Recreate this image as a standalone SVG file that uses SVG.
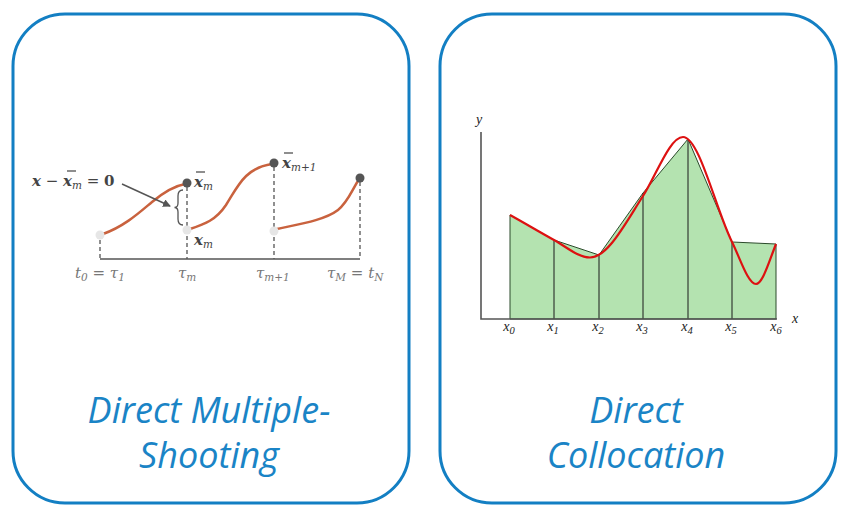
<svg xmlns="http://www.w3.org/2000/svg" width="851" height="517" viewBox="0 0 851 517">
<style>
.box{fill:#fff;stroke:#137fc3;stroke-width:3}
.title{font-family:"Open Sans",Lato,sans-serif;font-style:italic;font-size:36px;fill:#1a84c6;text-anchor:middle}
.seg{fill:none;stroke:#c9623e;stroke-width:2.5;stroke-linecap:round}
.dash{stroke:#555;stroke-width:1.3;stroke-dasharray:4 3}
.m{font-family:"DejaVu Serif","Liberation Serif",serif;font-style:italic;fill:#444;font-size:15px}
.mb{font-weight:bold}
.ax{font-family:"DejaVu Serif","Liberation Serif",serif;font-style:italic;fill:#777;font-size:15px}
.sub{font-size:10.5px}
.cl{font-family:"Liberation Serif",serif;font-style:italic;font-size:14px;fill:#222;text-anchor:middle}
</style>
<defs>
<marker id="ah" markerWidth="8" markerHeight="8" refX="7" refY="4" orient="auto" markerUnits="userSpaceOnUse">
<path d="M0,0 L8,4 L0,8 z" fill="#555"/>
</marker>
</defs>
<g id="box-left">
<rect class="box" x="13" y="14" width="396" height="489" rx="52"/>
<text class="title" x="209" y="423">Direct Multiple-</text>
<text class="title" x="209" y="468">Shooting</text>
</g>
<g id="box-right">
<rect class="box" x="440" y="14" width="396" height="489" rx="52"/>
<text class="title" x="636" y="423">Direct</text>
<text class="title" x="636" y="468">Collocation</text>
</g>
<g id="multiple-shooting">
<line x1="100" y1="259" x2="360" y2="259" stroke="#555" stroke-width="1.5"/>
<line class="dash" x1="100" y1="240" x2="100" y2="259"/>
<line class="dash" x1="187" y1="187" x2="187" y2="259"/>
<line class="dash" x1="274" y1="167" x2="274" y2="259"/>
<line class="dash" x1="360" y1="182" x2="360" y2="259"/>
<path class="seg" d="M103,234 C125,226 140,212 152,202 C164,192 174,186 185,184"/>
<path class="seg" d="M190,229 C205,224 216,220 226,205 C238,186 245,168 272,164"/>
<path class="seg" d="M277,229 C300,224 325,220 338,210 C348,202 352,190 358,181"/>
<circle cx="100" cy="235" r="4.5" fill="#e6e6e6"/>
<circle cx="187" cy="230" r="4.5" fill="#e6e6e6"/>
<circle cx="274" cy="231" r="4.5" fill="#e6e6e6"/>
<circle cx="187" cy="183" r="4.5" fill="#555"/>
<circle cx="274" cy="163" r="4.5" fill="#555"/>
<circle cx="360" cy="178" r="4.5" fill="#555"/>
<path d="M183,190 Q178,190 178,196 L178,203 Q178,207.5 174.5,207.5 Q178,207.5 178,212 L178,219 Q178,225 183,225" fill="none" stroke="#555" stroke-width="1.3"/>
<line x1="122" y1="184" x2="170" y2="206" stroke="#555" stroke-width="1.5" marker-end="url(#ah)"/>
<text class="m" x="32" y="186"><tspan class="mb">x</tspan> − <tspan class="mb">x</tspan><tspan class="sub" dy="3">m</tspan><tspan dy="-3"> = </tspan><tspan class="mb" font-style="normal">0</tspan></text>
<line x1="67" y1="171" x2="76" y2="171" stroke="#444" stroke-width="1.2"/>
<text class="m" x="194" y="187"><tspan class="mb">x</tspan><tspan class="sub" dy="3">m</tspan></text>
<line x1="196" y1="172" x2="205" y2="172" stroke="#444" stroke-width="1.2"/>
<text class="m" x="282" y="168"><tspan class="mb">x</tspan><tspan class="sub" dy="3">m+1</tspan></text>
<line x1="284" y1="153" x2="293" y2="153" stroke="#444" stroke-width="1.2"/>
<text class="m" x="194" y="245"><tspan class="mb">x</tspan><tspan class="sub" dy="3">m</tspan></text>
<text class="ax" x="75" y="278">t<tspan class="sub" dy="3">0</tspan><tspan dy="-3"> = τ</tspan><tspan class="sub" dy="3">1</tspan></text>
<text class="ax" x="178" y="278">τ<tspan class="sub" dy="3">m</tspan></text>
<text class="ax" x="256" y="278">τ<tspan class="sub" dy="3">m+1</tspan></text>
<text class="ax" x="327" y="278">τ<tspan class="sub" dy="3">M</tspan><tspan dy="-3"> = t</tspan><tspan class="sub" dy="3">N</tspan></text>
</g>
<g id="collocation">
<polygon points="510,319 510,215 554,240 599,255 643,193 688,139 732,242 776,244 776,319" fill="#b4e3b0" stroke="#2b4a2b" stroke-width="1"/>
<g stroke="#1a1a1a" stroke-width="1">
<line x1="554" y1="240" x2="554" y2="319"/>
<line x1="599" y1="255" x2="599" y2="319"/>
<line x1="643" y1="193" x2="643" y2="319"/>
<line x1="688" y1="139" x2="688" y2="319"/>
<line x1="732" y1="242" x2="732" y2="319"/>
</g>
<path d="M510,215 C524.7,223.1 539.3,231.9 554,240 C566,246.6 578,257.5 590,257.5 C607.7,257.5 625.3,223.4 643,196 C656.3,175.3 669.7,137 683,137 C699.3,137 715.7,209.3 732,242 C740,258 748,284 756,284 C762.7,284 769.3,260.7 776,244" fill="none" stroke="#dd1111" stroke-width="2.2"/>
<polyline points="481,132 481,319 777,319" fill="none" stroke="#555" stroke-width="1.6"/>
<text class="cl" x="479" y="124" font-size="11">y</text>
<text class="cl" x="795" y="323" font-size="11">x</text>
<text class="cl" x="509" y="331">x<tspan class="sub" dy="3">0</tspan></text>
<text class="cl" x="553" y="331">x<tspan class="sub" dy="3">1</tspan></text>
<text class="cl" x="598" y="331">x<tspan class="sub" dy="3">2</tspan></text>
<text class="cl" x="642" y="331">x<tspan class="sub" dy="3">3</tspan></text>
<text class="cl" x="687" y="331">x<tspan class="sub" dy="3">4</tspan></text>
<text class="cl" x="731" y="331">x<tspan class="sub" dy="3">5</tspan></text>
<text class="cl" x="776" y="331">x<tspan class="sub" dy="3">6</tspan></text>
</g>
</svg>
